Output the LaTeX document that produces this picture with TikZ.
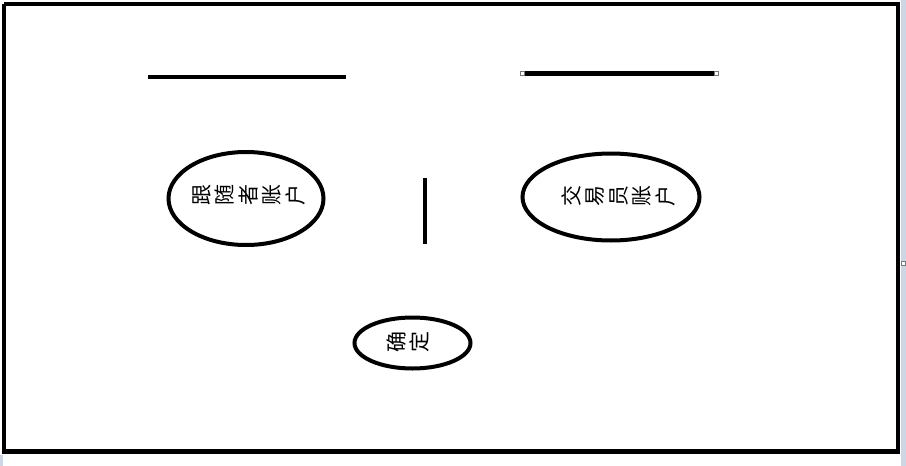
\documentclass[tikz,border=0pt]{standalone}
\usepackage{fontspec}
\newfontfamily\cjk{Noto Sans CJK SC}
\usetikzlibrary{shapes.geometric}
\definecolor{chrome}{RGB}{205,214,228}
\definecolor{handle}{RGB}{120,120,120}
\tikzset{
  oval/.style={ellipse, draw=black, line width=4pt, inner sep=0pt},
  vtext/.style={rotate=90, align=center, inner sep=0pt, font=\cjk\fontsize{21}{23.5}\selectfont},
  bar/.style={line width=4pt, black},
  grip/.style={draw=handle, fill=white, line width=0.8pt, minimum size=4pt, inner sep=0pt, rectangle},
}
\begin{document}
\begin{tikzpicture}[x=1pt,y=-1pt]
\useasboundingbox (0,0) rectangle (906,466);
\fill[white] (0,0) rectangle (906,466);
\fill[chrome] (901,0) rectangle (906,466);
\fill[chrome] (0,455) rectangle (3,466);
% frame
\draw[line width=4pt] (4,4) -- (898,4) -- (898,451);
\draw[line width=4pt] (4,4) -- (4,451);
\draw[line width=5pt] (2,451.5) -- (900,451.5);
\node[grip] (g0) at (903,263) {};
% top lines
\coordinate (l1a) at (148,77);
\coordinate (l1b) at (346,77);
\draw[bar] (l1a) -- (l1b);
\coordinate (l2a) at (522,73);
\coordinate (l2b) at (716,73);
\draw[bar, line width=5pt] (l2a) -- (l2b);
\node[grip] (g1) at (l2a) {};
\node[grip] (g2) at (l2b) {};
% vertical line
\coordinate (v1) at (425,178);
\coordinate (v2) at (425,244);
\draw[bar] (v1) -- (v2);
% ellipses
\node[oval, minimum width=155pt, minimum height=93pt] (e1) at (246,198.5) {};
\node[vtext] (t1) at (249,195) {跟\\随\\者\\账\\户};
\node[oval, minimum width=177pt, minimum height=87pt] (e2) at (611,197) {};
\node[vtext] (t2) at (618,196) {交\\易\\员\\账\\户};
\node[oval, minimum width=116pt, minimum height=51pt] (e3) at (412.5,343) {};
\node[vtext] (t3) at (408,342) {确\\定};
\end{tikzpicture}
\end{document}
